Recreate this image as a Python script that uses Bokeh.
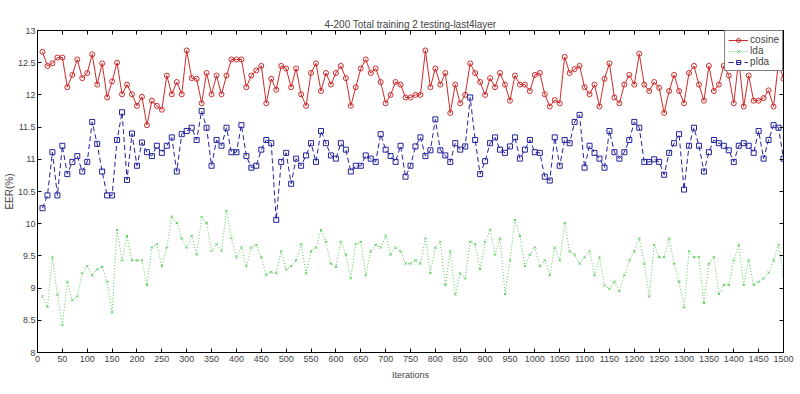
from bokeh.plotting import figure
from bokeh.models import LinearAxis, FixedTicker, Range1d, Legend, LegendItem, CustomJSTickFormatter
from bokeh.embed import file_html
from bokeh.resources import INLINE

iterations = list(range(10, 1501, 10))

cosine = [12.67, 12.45, 12.49, 12.58, 12.58, 12.12, 12.31, 12.55, 12.26, 12.34,
          12.63, 12.16, 12.49, 11.96, 12.21, 12.50, 12.01, 12.16, 12.01, 11.83,
          11.97, 11.53, 11.91, 11.83, 11.77, 12.30, 12.01, 12.20, 12.01, 12.69,
          12.26, 12.25, 11.87, 12.34, 12.01, 12.30, 12.01, 12.30, 12.55, 12.55,
          12.55, 12.12, 12.30, 12.38, 12.45, 11.87, 12.25, 12.08, 12.45, 12.41,
          12.12, 12.41, 12.01, 11.83, 12.34, 12.49, 12.06, 12.34, 12.16, 12.34,
          12.45, 12.26, 11.83, 12.12, 12.41, 12.55, 12.34, 12.41, 12.20, 11.87,
          12.00, 12.20, 12.16, 11.96, 11.96, 12.00, 12.00, 12.69, 12.12, 12.41,
          12.16, 12.34, 11.72, 12.16, 11.87, 12.00, 12.49, 12.34, 12.20, 12.00,
          12.26, 12.12, 12.34, 12.16, 11.91, 12.30, 12.16, 12.16, 12.06, 12.31,
          12.34, 12.01, 11.82, 11.92, 11.87, 12.59, 12.34, 12.40, 12.45, 12.12,
          12.01, 12.16, 11.82, 12.25, 12.49, 11.96, 11.87, 12.16, 12.31, 12.16,
          12.64, 12.16, 12.06, 12.20, 12.11, 11.72, 12.06, 12.31, 12.06, 11.87,
          12.34, 12.45, 12.16, 11.91, 12.45, 12.06, 12.16, 12.45, 12.30, 11.87,
          12.55, 11.82, 12.30, 11.91, 11.91, 11.95, 12.07, 11.82, 12.51, 12.25]

lda = [8.87, 8.71, 9.48, 8.90, 8.43, 9.10, 8.81, 8.87, 9.23, 9.34,
       9.20, 9.29, 9.33, 9.10, 8.62, 9.90, 9.43, 9.81, 9.43, 9.43,
       9.43, 9.05, 9.63, 9.68, 9.34, 9.63, 10.11, 10.01, 9.77, 9.63,
       9.81, 9.52, 10.10, 10.01, 9.58, 9.68, 9.58, 10.20, 9.77, 9.48,
       9.63, 9.34, 9.63, 9.67, 9.48, 9.20, 9.25, 9.23, 9.57, 9.29,
       9.34, 9.43, 9.68, 9.23, 9.57, 9.63, 9.90, 9.72, 9.38, 9.33,
       9.72, 9.52, 9.15, 9.68, 9.72, 9.20, 9.57, 9.67, 9.63, 9.81,
       9.52, 9.63, 9.57, 9.38, 9.38, 9.43, 9.38, 9.77, 9.23, 9.63,
       9.72, 9.05, 9.57, 8.90, 9.23, 9.15, 9.72, 9.68, 9.29, 9.72,
       9.91, 9.52, 9.77, 8.91, 9.43, 10.06, 9.81, 9.34, 9.52, 9.63,
       9.34, 9.43, 9.20, 9.63, 9.43, 10.01, 9.57, 9.52, 9.38, 9.48,
       9.57, 9.20, 9.48, 9.04, 8.99, 9.10, 8.95, 9.20, 9.43, 9.57,
       9.77, 9.38, 8.87, 9.67, 9.48, 9.48, 9.77, 9.38, 9.10, 8.70,
       9.57, 9.48, 9.48, 8.77, 9.38, 9.48, 8.91, 9.05, 9.05, 9.43,
       9.67, 9.05, 9.43, 9.05, 9.10, 9.15, 9.24, 9.43, 9.67, 9.20]

plda = [10.24, 10.44, 11.11, 10.44, 11.21, 10.77, 10.96, 11.05, 10.81, 10.96,
        11.58, 11.24, 10.81, 10.44, 10.44, 11.30, 11.73, 10.68, 11.40, 10.90,
        11.26, 11.11, 11.05, 11.21, 11.10, 11.21, 11.34, 10.81, 11.39, 11.44,
        11.49, 11.30, 11.75, 11.49, 10.90, 11.30, 11.21, 11.49, 11.11, 11.11,
        11.53, 11.05, 10.87, 10.90, 11.15, 11.30, 11.25, 10.06, 10.96, 11.10,
        10.62, 11.01, 10.90, 11.06, 11.25, 10.96, 11.44, 11.25, 11.06, 11.01,
        11.25, 11.15, 10.81, 10.90, 10.90, 11.06, 11.01, 10.96, 11.39, 11.15,
        11.05, 10.96, 11.21, 10.73, 10.90, 11.20, 11.34, 11.05, 11.14, 11.62,
        11.14, 11.06, 10.96, 11.25, 11.15, 11.20, 11.96, 11.30, 10.77, 10.97,
        11.25, 11.34, 11.15, 11.10, 11.20, 11.34, 11.01, 11.15, 11.30, 11.11,
        11.10, 10.73, 10.67, 11.34, 10.90, 11.30, 11.25, 11.58, 11.69, 10.87,
        11.21, 11.10, 11.01, 10.87, 11.44, 11.11, 11.01, 11.11, 11.30, 11.58,
        11.49, 10.96, 10.96, 11.00, 10.96, 10.76, 11.10, 11.25, 11.39, 10.53,
        11.21, 11.49, 11.21, 10.81, 11.11, 11.30, 11.25, 11.21, 11.14, 10.96,
        11.21, 11.25, 11.21, 11.10, 11.44, 11.01, 11.30, 11.53, 11.49, 11.01]

x_ticks = list(range(0, 1501, 50))
y_ticks = [8, 8.5, 9, 9.5, 10, 10.5, 11, 11.5, 12, 12.5, 13]
y_tick_labels = ["8", "8.5", "9", "9.5", "10", "10.5", "11", "11.5", "12", "12.5", "13"]

FONT = "Liberation Sans"
RED = "#cc2a2a"
GREEN = "#55cc55"
BLUE = "#22229c"

p = figure(width=800, height=394, output_backend="svg", toolbar_location=None,
           x_range=Range1d(0, 1500), y_range=Range1d(8, 13),
           min_border_left=36, min_border_right=17, min_border_top=30, min_border_bottom=42,
           title="4-200 Total training 2 testing-last4layer")
p.title.align = "center"
p.title.text_font = FONT
p.title.text_font_size = "10px"
p.title.text_font_style = "normal"
p.title.offset = 0
p.title.standoff = 2
p.xgrid.visible = False
p.ygrid.visible = False
p.outline_line_color = "black"
p.outline_line_width = 1
p.background_fill_color = "white"
p.border_fill_color = "white"

overrides = {float(t): s for t, s in zip(y_ticks, y_tick_labels)}
blank = CustomJSTickFormatter(code="return ''")

def style_axis(ax, show_labels):
    ax.major_tick_in = 4
    ax.major_tick_out = 0
    ax.minor_tick_in = 0
    ax.minor_tick_out = 0
    ax.axis_line_color = "black"
    ax.major_tick_line_color = "black"
    ax.major_label_text_font = FONT
    ax.major_label_text_font_size = "9px"
    ax.major_label_standoff = 3 if show_labels else 0
    ax.axis_label_text_font = FONT
    ax.axis_label_text_font_size = "9px"
    ax.axis_label_text_font_style = "normal"
    if not show_labels:
        ax.formatter = blank

xa = p.xaxis[0]
xa.ticker = FixedTicker(ticks=x_ticks)
xa.axis_label = "Iterations"
xa.axis_label_standoff = 5
style_axis(xa, True)

ya = p.yaxis[0]
ya.ticker = FixedTicker(ticks=y_ticks)
ya.major_label_overrides = overrides
ya.axis_label = "EER(%)"
style_axis(ya, True)
ya.major_label_standoff = 2
ya.axis_label_standoff = 0
ya.axis_label_text_font_size = "10px"

top_ax = LinearAxis(ticker=FixedTicker(ticks=x_ticks))
style_axis(top_ax, False)
p.add_layout(top_ax, "above")
right_ax = LinearAxis(ticker=FixedTicker(ticks=y_ticks))
style_axis(right_ax, False)
p.add_layout(right_ax, "right")

l1 = p.line(iterations, cosine, line_color=RED, line_width=1)
m1 = p.scatter(iterations, cosine, marker="circle", size=5, line_color=RED, fill_color=None, line_width=1)
l2 = p.line(iterations, lda, line_color=GREEN, line_width=1, line_dash="1 2")
m2 = p.scatter(iterations, lda, marker="x", size=3, line_color=GREEN, line_width=1)
l3 = p.line(iterations, plda, line_color=BLUE, line_width=1, line_dash="5 3")
m3 = p.scatter(iterations, plda, marker="square", size=5, line_color=BLUE, fill_color=None, line_width=1)

legend = Legend(items=[LegendItem(label="cosine", renderers=[l1, m1]),
                       LegendItem(label="lda", renderers=[l2, m2]),
                       LegendItem(label="plda", renderers=[l3, m3])],
                location="top_right")
legend.label_text_font = FONT
legend.label_text_font_size = "10px"
legend.border_line_color = "black"
legend.border_line_width = 1
legend.margin = 0
legend.padding = 3
legend.spacing = 0
legend.label_height = 10
legend.glyph_height = 10
legend.glyph_width = 20
legend.label_standoff = 2
p.add_layout(legend)

open("out.html", "w").write(file_html(p, INLINE))
